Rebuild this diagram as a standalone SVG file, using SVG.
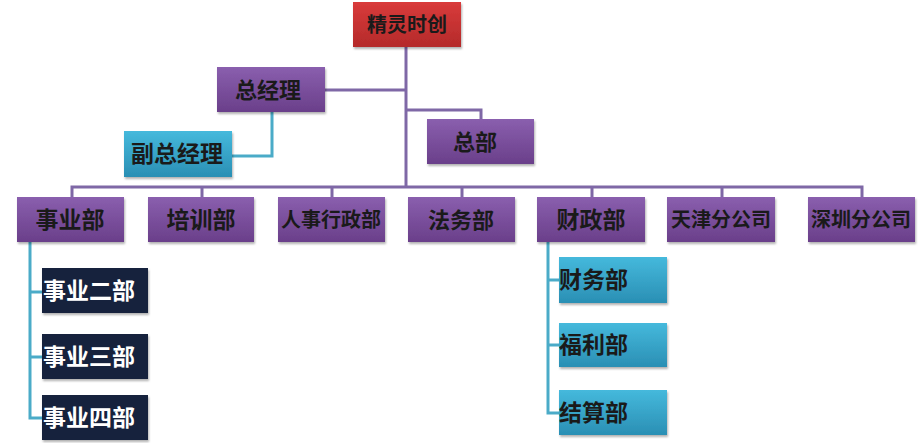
<svg xmlns="http://www.w3.org/2000/svg" width="919" height="443" viewBox="0 0 919 443">
<defs>
<linearGradient id="gPurple" x1="0" y1="0" x2="0" y2="1"><stop offset="0" stop-color="#8a5fae"/><stop offset="1" stop-color="#6a3f8a"/></linearGradient>
<linearGradient id="gRed" x1="0" y1="0" x2="0" y2="1"><stop offset="0" stop-color="#d93b3b"/><stop offset="1" stop-color="#b42a2a"/></linearGradient>
<linearGradient id="gTeal" x1="0" y1="0" x2="0" y2="1"><stop offset="0" stop-color="#45b9dc"/><stop offset="1" stop-color="#2a8fb4"/></linearGradient>
<filter id="sh" x="-10%" y="-10%" width="125%" height="130%"><feDropShadow dx="1" dy="2" stdDeviation="1.2" flood-color="#000" flood-opacity="0.3"/></filter>
</defs>
<style>
text{font-family:"Noto Sans CJK SC","Noto Sans",sans-serif;font-weight:bold;}
.p rect{fill:url(#gPurple);filter:url(#sh);}
.r rect{fill:url(#gRed);filter:url(#sh);}
.t rect{fill:url(#gTeal);filter:url(#sh);}
.n rect{fill:#14243e;filter:url(#sh);}
.p text,.r text,.t text{fill:#1a1a1a;}
.n text{fill:#ffffff;}
.cp{fill:none;stroke:#7f68a6;stroke-width:3;}
.ct{fill:none;stroke:#4aabc8;stroke-width:3;}
</style>
<g id="connectors">
<path class="cp" d="M406 47 V187"/>
<path class="cp" d="M325 90 H406"/>
<path class="cp" d="M406 110 H481 V119"/>
<path class="cp" d="M72 197 V187 H862 V197"/>
<path class="cp" d="M202 187 V197 M332 187 V197 M462 187 V197 M592 187 V197 M722 187 V197"/>
<path class="ct" d="M272 112 V156 H232"/>
<path class="ct" d="M30 242 V418 H42 M30 292 H42 M30 357 H42"/>
<path class="ct" d="M548 242 V413 H559 M548 280 H559 M548 345 H559"/>
</g>
<g id="n-top" class="r"><rect x="353" y="2" width="108" height="45"/><text x="407" y="32" font-size="20" text-anchor="middle">精灵时创</text></g>
<g id="n-gm" class="p"><rect x="217" y="67" width="108" height="45"/><text x="268" y="98" font-size="22" text-anchor="middle">总经理</text></g>
<g id="n-vgm" class="t"><rect x="124" y="131" width="108" height="46"/><text x="177" y="162" font-size="23" text-anchor="middle">副总经理</text></g>
<g id="n-hq" class="p"><rect x="427" y="119" width="107" height="45"/><text x="475" y="150" font-size="22" text-anchor="middle">总部</text></g>
<g id="n-biz" class="p"><rect x="17" y="197" width="107" height="45"/><text x="70" y="228" font-size="23" text-anchor="middle">事业部</text></g>
<g id="n-train" class="p"><rect x="148" y="197" width="106" height="45"/><text x="201" y="228" font-size="23" text-anchor="middle">培训部</text></g>
<g id="n-hr" class="p"><rect x="278" y="197" width="107" height="45"/><text x="331" y="227" font-size="20" text-anchor="middle">人事行政部</text></g>
<g id="n-law" class="p"><rect x="408" y="197" width="107" height="45"/><text x="461" y="228" font-size="22" text-anchor="middle">法务部</text></g>
<g id="n-fin" class="p"><rect x="537" y="197" width="108" height="45"/><text x="591" y="228" font-size="23" text-anchor="middle">财政部</text></g>
<g id="n-tj" class="p"><rect x="667" y="197" width="108" height="45"/><text x="721" y="227" font-size="20" text-anchor="middle">天津分公司</text></g>
<g id="n-sz" class="p"><rect x="808" y="197" width="107" height="45"/><text x="861" y="227" font-size="20" text-anchor="middle">深圳分公司</text></g>
<g id="n-biz2" class="n"><rect x="42" y="268" width="106" height="45"/><text x="43" y="299" font-size="23">事业二部</text></g>
<g id="n-biz3" class="n"><rect x="42" y="334" width="106" height="45"/><text x="43" y="365" font-size="23">事业三部</text></g>
<g id="n-biz4" class="n"><rect x="42" y="395" width="106" height="45"/><text x="43" y="426" font-size="23">事业四部</text></g>
<g id="n-acc" class="t"><rect x="559" y="257" width="108" height="46"/><text x="559" y="288" font-size="23">财务部</text></g>
<g id="n-wel" class="t"><rect x="559" y="323" width="108" height="44"/><text x="559" y="353" font-size="23">福利部</text></g>
<g id="n-set" class="t"><rect x="559" y="390" width="108" height="45"/><text x="559" y="421" font-size="23">结算部</text></g>
</svg>
